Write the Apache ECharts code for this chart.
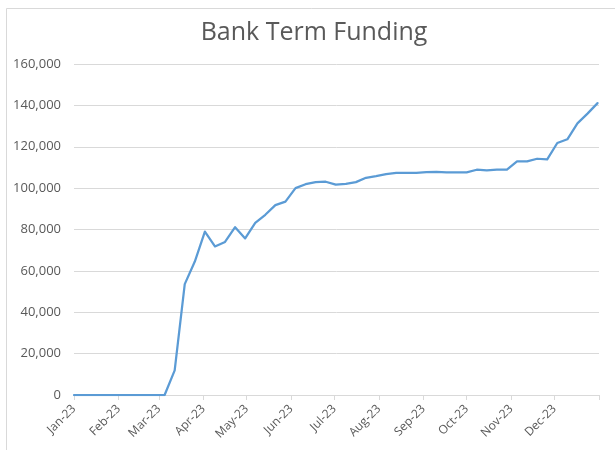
<!DOCTYPE html>
<html>
<head>
<meta charset="utf-8">
<title>Bank Term Funding</title>
<script src="https://cdn.jsdelivr.net/npm/echarts@6/dist/echarts.min.js"></script>
<style>
  html, body { margin: 0; padding: 0; background: #ffffff; }
  #chart { width: 615px; height: 450px; }
</style>
</head>
<body>
<div id="chart"></div>
<script>
// Weekly observation dates (Sundays) for 2023
const weekDates = [
  '2023-01-01', '2023-01-08', '2023-01-15', '2023-01-22', '2023-01-29',
  '2023-02-05', '2023-02-12', '2023-02-19', '2023-02-26',
  '2023-03-05', '2023-03-12', '2023-03-19', '2023-03-26',
  '2023-04-02', '2023-04-09', '2023-04-16', '2023-04-23', '2023-04-30',
  '2023-05-07', '2023-05-14', '2023-05-21', '2023-05-28',
  '2023-06-04', '2023-06-11', '2023-06-18', '2023-06-25',
  '2023-07-02', '2023-07-09', '2023-07-16', '2023-07-23', '2023-07-30',
  '2023-08-06', '2023-08-13', '2023-08-20', '2023-08-27',
  '2023-09-03', '2023-09-10', '2023-09-17', '2023-09-24',
  '2023-10-01', '2023-10-08', '2023-10-15', '2023-10-22', '2023-10-29',
  '2023-11-05', '2023-11-12', '2023-11-19', '2023-11-26',
  '2023-12-03', '2023-12-10', '2023-12-17', '2023-12-24', '2023-12-31'
];

// Outstanding term funding (millions)
const fundingValues = [
  0, 0, 0, 0, 0,
  0, 0, 0, 0,
  0, 11900, 53600, 64500,
  79000, 71800, 74000, 81100, 75700,
  83200, 87100, 91800, 93500,
  100000, 101900, 102900, 103100,
  101700, 102100, 102900, 105000, 105800,
  106800, 107400, 107400, 107400,
  107700, 107900, 107600, 107600,
  107600, 108900, 108600, 108900, 108900,
  112900, 112900, 114200, 113900,
  121800, 123600, 131300, 136000, 141100
];

// Month boundaries used for ticks and labels
const monthStarts = [
  '2023-01-01', '2023-02-01', '2023-03-01', '2023-04-01', '2023-05-01', '2023-06-01',
  '2023-07-01', '2023-08-01', '2023-09-01', '2023-10-01', '2023-11-01', '2023-12-01'
];
const monthLabels = [
  'Jan-23', 'Feb-23', 'Mar-23', 'Apr-23', 'May-23', 'Jun-23',
  'Jul-23', 'Aug-23', 'Sep-23', 'Oct-23', 'Nov-23', 'Dec-23'
];
const axisStart = '2023-01-01';
const axisEnd = '2024-01-01';

const yMin = 0;
const yMax = 160000;
const yStep = 20000;

// Convert a date string into days elapsed since the axis start
const DAY = 86400000;
const utc = s => {
  const p = s.split('-').map(Number);
  return Date.UTC(p[0], p[1] - 1, p[2]);
};
const dayIndex = s => Math.round((utc(s) - utc(axisStart)) / DAY);

const seriesData = weekDates.map((d, i) => [dayIndex(d), fundingValues[i]]);
const labelDays = monthStarts.map(dayIndex);
const tickDays = labelDays.concat([dayIndex(axisEnd)]);
const labelByDay = {};
labelDays.forEach((d, i) => { labelByDay[d] = monthLabels[i]; });

const textColor = '#595959';
const lineGrey = '#D9D9D9';
const fontFamily = '"Open Sans", "Noto Sans", sans-serif';

const chart = echarts.init(document.getElementById('chart'), null, { renderer: 'canvas' });

chart.setOption({
  backgroundColor: '#ffffff',
  animation: false,
  graphic: [{
    type: 'rect',
    shape: { x: 6.5, y: 8.5, width: 800, height: 600 },
    style: { fill: 'none', stroke: lineGrey, lineWidth: 1 },
    silent: true
  }],
  title: {
    text: 'Bank Term Funding',
    left: 309,
    top: 15,
    textAlign: 'center',
    textStyle: {
      color: textColor,
      fontFamily: fontFamily,
      fontSize: 25,
      fontWeight: 'normal'
    }
  },
  grid: {
    left: 74,
    right: 16,
    top: 64,
    bottom: 55,
    containLabel: false
  },
  xAxis: {
    type: 'value',
    min: 0,
    max: dayIndex(axisEnd),
    axisLine: { show: true, onZero: false, lineStyle: { color: lineGrey, width: 1 } },
    axisTick: {
      show: true,
      length: 5,
      lineStyle: { color: lineGrey },
      customValues: tickDays
    },
    axisLabel: {
      show: true,
      rotate: 45,
      margin: 12,
      color: textColor,
      fontFamily: fontFamily,
      fontSize: 12,
      customValues: labelDays,
      formatter: function (value) { return labelByDay[value] || ''; }
    },
    splitLine: { show: false }
  },
  yAxis: {
    type: 'value',
    min: yMin,
    max: yMax,
    interval: yStep,
    axisLine: { show: false },
    axisTick: { show: false },
    axisLabel: {
      margin: 13,
      color: textColor,
      fontFamily: fontFamily,
      fontSize: 13,
      formatter: function (v) { return v.toLocaleString('en-US'); }
    },
    splitLine: { show: true, lineStyle: { color: lineGrey, width: 1 } }
  },
  series: [{
    name: 'Bank Term Funding',
    type: 'line',
    data: seriesData,
    showSymbol: false,
    symbol: 'none',
    lineStyle: { color: '#5B9BD5', width: 2.25, cap: 'round', join: 'round' },
    itemStyle: { color: '#5B9BD5' }
  }]
});
</script>
</body>
</html>
